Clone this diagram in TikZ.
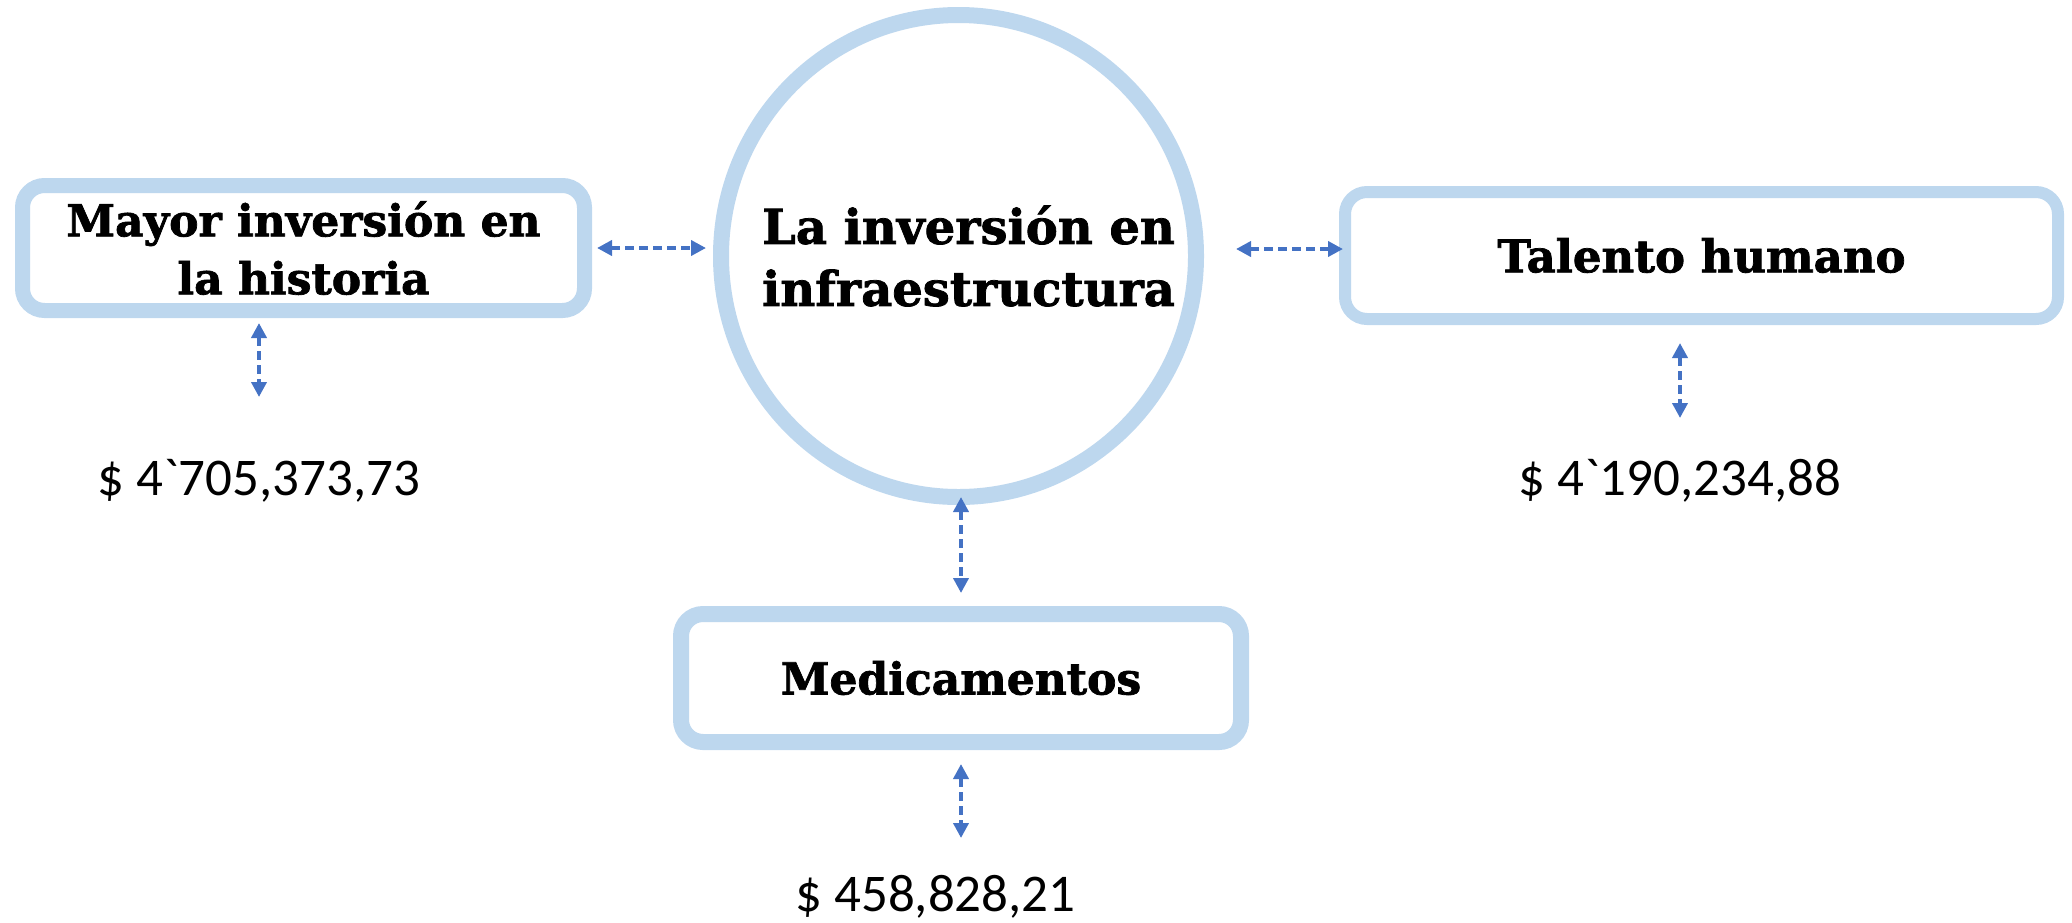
\documentclass[tikz,border=0pt]{standalone}
\usepackage{fontspec}
\usetikzlibrary{shapes.geometric,arrows.meta,calc}
\newfontfamily\titlefont[BoldFeatures={FakeBold=1.6}]{DejaVu Serif}
\newfontfamily\numfont[Ligatures=TeXOff]{Carlito}
\definecolor{boxblue}{HTML}{BDD7EE}
\definecolor{arrblue}{HTML}{4472C4}
\begin{document}
\begin{tikzpicture}[x=1pt,y=-1pt,
  box/.style={draw=boxblue, fill=white, rounded corners=22pt, inner sep=0pt, outer sep=0pt, align=center,
    font=\titlefont\bfseries\fontsize{44}{58}\selectfont},
  circbox/.style={ellipse, draw=boxblue, fill=white, inner sep=0pt, outer sep=0pt},
  arr/.style={draw=arrblue, line width=4pt, dash pattern=on 9pt off 5pt,
    {Triangle[length=15pt,width=15pt]}-{Triangle[length=15pt,width=15pt]}},
  val/.style={anchor=base, inner sep=0pt, font=\numfont\fontsize{53}{60}\selectfont}]
\useasboundingbox (0,0) rectangle (2072,922);

\node[circbox, line width=16pt, minimum width=475pt, minimum height=482pt,
  label={[align=center, inner sep=0pt, xshift=10pt, font=\titlefont\bfseries\fontsize{48}{62}\selectfont]center:La inversión en\\infraestructura}]
  (circ) at (958.5,256) {};
\node[box, line width=15pt, minimum width=562pt, minimum height=125pt] (mayor) at (303.5,248)
  {Mayor inversión en\\la historia};
\node[box, line width=12pt, minimum width=713pt, minimum height=127pt,
  font=\titlefont\bfseries\fontsize{45}{58}\selectfont] (tal) at (1701.5,255.5) {Talento humano};
\node[box, line width=16pt, minimum width=560pt, minimum height=128pt] (med) at (961,678) {Medicamentos};

\node[val] (v1) at (259,495) {\$ 4`705,373,73};
\node[val] (v2) at (1680,495) {\$ 4`190,234,88};
\node[val] (v3) at (935.5,911) {\$ 458,828,21};

\draw[arr] ($(mayor.east)+(12.5,0)$) -- ($(mayor.east -| circ.west)+(-15,0)$);
\coordinate (r1) at ($(tal.west)+(0,-6.5)$);
\draw[arr] ($(r1 -| circ.east)+(40,0)$) -- ($(r1)+(-2,0)$);
\draw[arr] (circ.south -| med.north) -- ($(med.north)+(0,-21)$);
\draw[arr] ($(v1.base |- mayor.south)+(0,12.5)$) -- ($(v1.base)+(0,-98)$);
\draw[arr] ($(v2.base |- tal.south)+(0,24)$) -- ($(v2.base)+(0,-77)$);
\draw[arr] ($(med.south)+(0,22)$) -- ($(med.south |- v3.base)+(0,-73)$);
\end{tikzpicture}
\end{document}
